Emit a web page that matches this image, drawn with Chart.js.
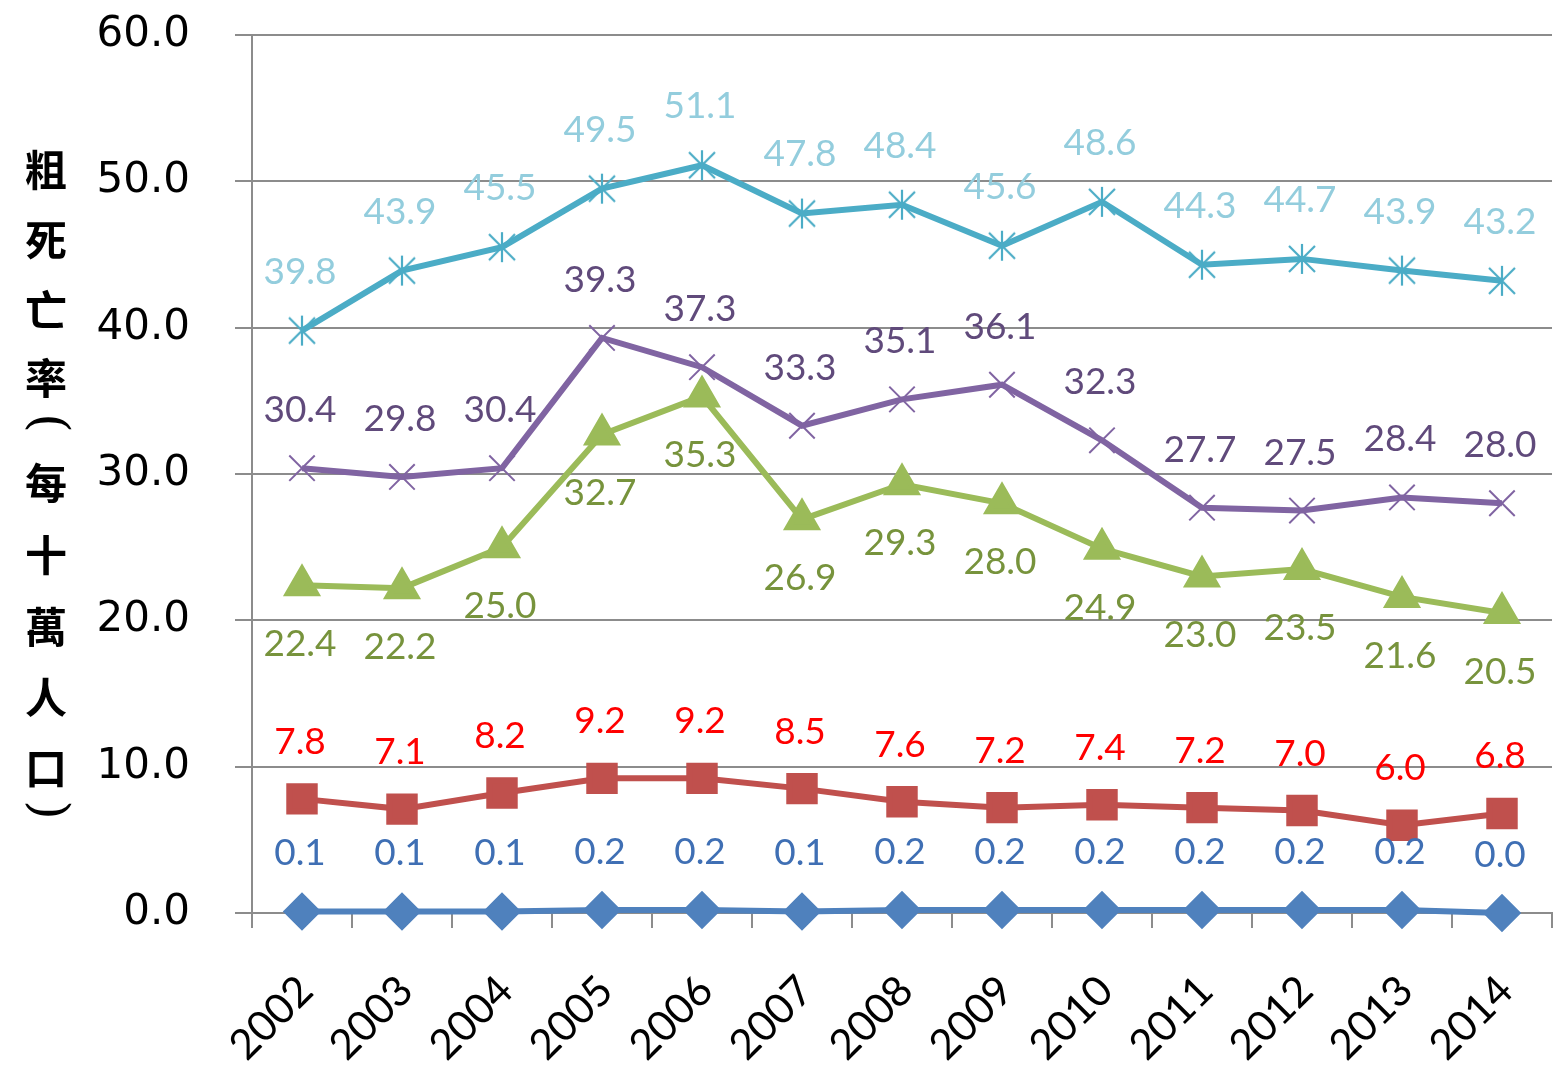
<!DOCTYPE html>
<html>
<head>
<meta charset="utf-8">
<script src="https://cdn.jsdelivr.net/npm/chart.js@4/dist/chart.umd.min.js"></script>
<style>
  html, body { margin: 0; padding: 0; background: #fff; }
  #wrap { width: 1564px; height: 1081px; }
</style>
</head>
<body>
<div id="wrap"><canvas id="rateChart" width="1564" height="1081"></canvas></div>
<script>
// data
const years = ['2002', '2003', '2004', '2005', '2006', '2007', '2008', '2009', '2010', '2011', '2012', '2013', '2014'];
const blueSeries = [0.1, 0.1, 0.1, 0.2, 0.2, 0.1, 0.2, 0.2, 0.2, 0.2, 0.2, 0.2, 0.0];
const redSeries = [7.8, 7.1, 8.2, 9.2, 9.2, 8.5, 7.6, 7.2, 7.4, 7.2, 7.0, 6.0, 6.8];
const greenSeries = [22.4, 22.2, 25.0, 32.7, 35.3, 26.9, 29.3, 28.0, 24.9, 23.0, 23.5, 21.6, 20.5];
const purpleSeries = [30.4, 29.8, 30.4, 39.3, 37.3, 33.3, 35.1, 36.1, 32.3, 27.7, 27.5, 28.4, 28.0];
const cyanSeries = [39.8, 43.9, 45.5, 49.5, 51.1, 47.8, 48.4, 45.6, 48.6, 44.3, 44.7, 43.9, 43.2];
const yTitleChars = ['粗', '死', '亡', '率', '(', '每', '十', '萬', '人', '口', ')'];

// asterisk marker (x with a vertical bar)
function makeAsterisk(color) {
  const c = document.createElement('canvas');
  c.width = 32;
  c.height = 32;
  const g = c.getContext('2d');
  g.strokeStyle = color;
  g.lineWidth = 2.2;
  g.beginPath();
  g.moveTo(3, 3); g.lineTo(29, 29);
  g.moveTo(29, 3); g.lineTo(3, 29);
  g.moveTo(16, 1); g.lineTo(16, 31);
  g.stroke();
  return c;
}

// value labels, drawn above or below each point
const valueLabels = {
  id: 'valueLabels',
  afterDatasetsDraw(chart) {
    const ctx = chart.ctx;
    ctx.save();
    ctx.font = '37px Lato';
    ctx.textAlign = 'center';
    ctx.textBaseline = 'middle';
    chart.data.datasets.forEach((ds, i) => {
      const meta = chart.getDatasetMeta(i);
      meta.data.forEach((pt, j) => {
        ctx.fillStyle = ds.labelColor;
        ctx.fillText(ds.data[j].toFixed(1), pt.x - 2, pt.y + ds.labelShift);
      });
    });
    ctx.restore();
  }
};

// stacked vertical axis title, brackets turned sideways
const stackedTitle = {
  id: 'stackedTitle',
  afterDraw(chart) {
    const ctx = chart.ctx;
    const steps = [70, 70, 68, 45, 60, 72, 72, 70, 71, 42];
    ctx.save();
    ctx.fillStyle = '#000';
    ctx.textAlign = 'center';
    ctx.textBaseline = 'middle';
    let y = 170;
    yTitleChars.forEach((ch, k) => {
      if (ch === '(' || ch === ')') {
        ctx.save();
        ctx.translate(46, y);
        ctx.rotate(Math.PI / 2);
        ctx.font = '50px "DejaVu Serif"';
        ctx.fillText(ch, 0, 0);
        ctx.restore();
      } else {
        ctx.font = 'bold 42px "Noto Sans CJK TC"';
        ctx.fillText(ch, 46, y);
      }
      y += steps[k] || 0;
    });
    ctx.restore();
  }
};

const ctx = document.getElementById('rateChart').getContext('2d');
new Chart(ctx, {
  type: 'line',
  data: {
    labels: years,
    datasets: [{
      data: blueSeries,
      borderColor: '#4F81BD',
      backgroundColor: '#4F81BD',
      borderWidth: 6,
      pointStyle: 'rectRot',
      pointRadius: 15,
      clip: false,
      labelColor: '#3F6FB4',
      labelShift: -58
    }, {
      data: redSeries,
      borderColor: '#C0504D',
      backgroundColor: '#C0504D',
      borderWidth: 6,
      pointStyle: 'rect',
      pointRadius: 18,
      clip: false,
      labelColor: '#FF0000',
      labelShift: -57
    }, {
      data: greenSeries,
      borderColor: '#9BBB59',
      backgroundColor: '#9BBB59',
      borderWidth: 6,
      pointStyle: 'triangle',
      pointRadius: 16,
      clip: false,
      labelColor: '#77933C',
      labelShift: 59
    }, {
      data: purpleSeries,
      borderColor: '#8064A2',
      backgroundColor: '#8064A2',
      borderWidth: 6,
      pointStyle: 'crossRot',
      pointRadius: 18,
      pointBorderWidth: 2,
      clip: false,
      labelColor: '#604A7B',
      labelShift: -58
    }, {
      data: cyanSeries,
      borderColor: '#4BACC6',
      backgroundColor: '#4BACC6',
      borderWidth: 6,
      pointStyle: makeAsterisk('#4BACC6'),
      pointRadius: 16,
      clip: false,
      labelColor: '#93CDDD',
      labelShift: -59
    }]
  },
  options: {
    responsive: false,
    animation: false,
    events: [],
    layout: {
      autoPadding: false,
      padding: { top: 35, right: 12, bottom: 0, left: 0 }
    },
    plugins: {
      legend: { display: false },
      tooltip: { enabled: false }
    },
    scales: {
      x: {
        offset: true,
        grid: {
          offset: true,
          drawOnChartArea: false,
          color: '#8C8C8C',
          lineWidth: 2,
          tickLength: 15
        },
        border: { display: true, color: '#8C8C8C', width: 2 },
        ticks: {
          color: '#000',
          font: { family: 'Lato', size: 42 },
          maxRotation: 45,
          minRotation: 45,
          padding: 38,
          labelOffset: 4,
          autoSkip: false
        },
        afterFit(scale) {
          scale.height = 168;
          scale.paddingLeft = 0;
          scale.paddingRight = 0;
        }
      },
      y: {
        min: 0,
        max: 60,
        grid: {
          color: '#8C8C8C',
          lineWidth: 2,
          tickLength: 17
        },
        border: { display: true, color: '#8C8C8C', width: 2 },
        ticks: {
          stepSize: 10,
          color: '#000',
          font: { family: 'DejaVu Sans', size: 42 },
          padding: 45,
          callback: v => v.toFixed(1)
        },
        afterFit(scale) {
          scale.width = 252;
          scale.paddingTop = 0;
          scale.paddingBottom = 0;
        }
      }
    }
  },
  plugins: [valueLabels, stackedTitle]
});
</script>
</body>
</html>
